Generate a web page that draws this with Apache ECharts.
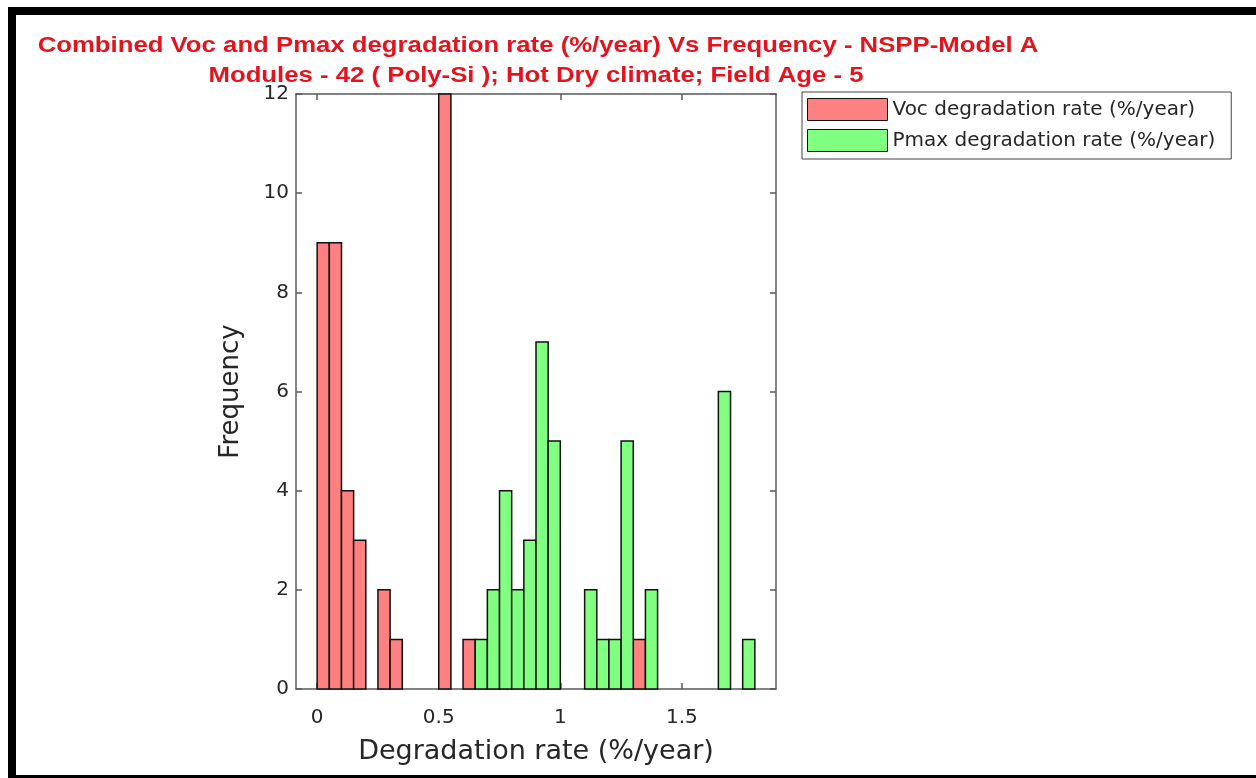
<!DOCTYPE html>
<html>
<head>
<meta charset="utf-8">
<script src="https://cdn.jsdelivr.net/npm/echarts@6/dist/echarts.min.js"></script>
<style>
html,body{margin:0;padding:0;background:#fff;}
#chart{width:1256px;height:778px;}
</style>
</head>
<body>
<div id="chart"></div>
<script>
// ---- data ----
const titleLines = [
  'Combined Voc and Pmax degradation rate (%/year) Vs Frequency - NSPP-Model A',
  'Modules - 42 ( Poly-Si ); Hot Dry climate; Field Age - 5'
];
const binWidth = 0.05;
const vocBinStarts = [0, 0.05, 0.10, 0.15, 0.25, 0.30, 0.50, 0.60, 1.30];
const vocCounts    = [9, 9, 4, 3, 2, 1, 12, 1, 1];
const pmaxBinStarts = [0.65, 0.70, 0.75, 0.80, 0.85, 0.90, 0.95, 1.10, 1.15, 1.20, 1.25, 1.35, 1.65, 1.75];
const pmaxCounts    = [1, 2, 4, 2, 3, 7, 5, 2, 1, 1, 5, 2, 6, 1];
const xTicks = [0, 0.5, 1, 1.5];
const seriesNames = ['Voc degradation rate (%/year)', 'Pmax degradation rate (%/year)'];
const xName = 'Degradation rate (%/year)';
const yName = 'Frequency';

// ---- build ----
function toData(starts, counts) {
  return starts.map((s, i) => [s, s + binWidth, counts[i]]);
}
function makeRender(color) {
  return function (params, api) {
    const p0 = api.coord([api.value(0), 0]);
    const p1 = api.coord([api.value(1), api.value(2)]);
    return {
      type: 'rect',
      shape: { x: p0[0], y: p1[1], width: p1[0] - p0[0], height: p0[1] - p1[1] },
      style: { fill: color, stroke: '#111', lineWidth: 1.5 }
    };
  };
}
const red = '#ff8080', green = '#80ff80';
const axisColor = '#5a5a5a';
const labelColor = '#262626';
const fontMain = 'DejaVu Sans';
const titleColor = '#e3141e';

const chart = echarts.init(document.getElementById('chart'), null, { renderer: 'canvas' });
const xMin = -0.087, xMax = 1.887;
const commonX = {
  type: 'value', min: xMin, max: xMax,
  splitLine: { show: false },
  axisLine: { show: true, onZero: false, lineStyle: { color: axisColor, width: 1.5 } },
  axisTick: { show: true, inside: true, length: 6, customValues: xTicks, lineStyle: { color: axisColor, width: 1.5 } }
};
const commonY = {
  type: 'value', min: 0, max: 12, interval: 2,
  splitLine: { show: false },
  axisLine: { show: true, onZero: false, lineStyle: { color: axisColor, width: 1.5 } },
  axisTick: { show: true, inside: true, length: 6, lineStyle: { color: axisColor, width: 1.5 } }
};
chart.setOption({
  backgroundColor: '#ffffff',
  animation: false,
  grid: { left: 296, top: 94, width: 480, height: 595, containLabel: false },
  graphic: [
    { type: 'rect', shape: { x: 8, y: 7, width: 1248, height: 8 }, style: { fill: '#000' }, z: 100 },
    { type: 'rect', shape: { x: 8, y: 7, width: 8, height: 771 }, style: { fill: '#000' }, z: 100 },
    { type: 'rect', shape: { x: 8, y: 775, width: 1248, height: 3 }, style: { fill: '#000' }, z: 100 },
    { type: 'text', x: 538, y: 46, scaleX: 1.17, originX: 0, style: { text: titleLines[0], fill: titleColor, font: 'bold 22px "Liberation Sans", Arial', textAlign: 'center', textVerticalAlign: 'middle' } },
    { type: 'text', x: 536, y: 76, scaleX: 1.17, originX: 0, style: { text: titleLines[1], fill: titleColor, font: 'bold 22px "Liberation Sans", Arial', textAlign: 'center', textVerticalAlign: 'middle' } }
  ],
  legend: {
    orient: 'vertical', left: 802, top: 92,
    itemWidth: 80, itemHeight: 22, itemGap: 8,
    padding: [6, 16, 7, 5],
    borderColor: '#444', borderWidth: 1, backgroundColor: '#fff',
    textStyle: { fontFamily: fontMain, fontSize: 20, color: labelColor },
    data: [
      { name: seriesNames[0], icon: 'rect', itemStyle: { color: red, borderColor: '#111', borderWidth: 1 } },
      { name: seriesNames[1], icon: 'rect', itemStyle: { color: green, borderColor: '#111', borderWidth: 1 } }
    ]
  },
  xAxis: [
    Object.assign({}, commonX, {
      position: 'bottom', name: xName, nameLocation: 'middle', nameGap: 49,
      nameTextStyle: { fontFamily: fontMain, fontSize: 27, color: labelColor },
      axisLabel: { show: true, customValues: xTicks, margin: 19, fontFamily: fontMain, fontSize: 20, color: labelColor }
    }),
    Object.assign({}, commonX, { position: 'top', axisLabel: { show: false } })
  ],
  yAxis: [
    Object.assign({}, commonY, {
      position: 'left', name: yName, nameLocation: 'middle', nameGap: 52,
      nameTextStyle: { fontFamily: fontMain, fontSize: 26, color: labelColor },
      axisLabel: { show: true, margin: 7, fontFamily: fontMain, fontSize: 20, color: labelColor }
    }),
    Object.assign({}, commonY, { position: 'right', axisLabel: { show: false } })
  ],
  series: [
    { name: seriesNames[0], type: 'custom', renderItem: makeRender(red), itemStyle: { color: red },
      encode: { x: [0, 1], y: 2 }, data: toData(vocBinStarts, vocCounts), clip: false },
    { name: seriesNames[1], type: 'custom', renderItem: makeRender(green), itemStyle: { color: green },
      encode: { x: [0, 1], y: 2 }, data: toData(pmaxBinStarts, pmaxCounts), clip: false }
  ]
});
</script>
</body>
</html>
